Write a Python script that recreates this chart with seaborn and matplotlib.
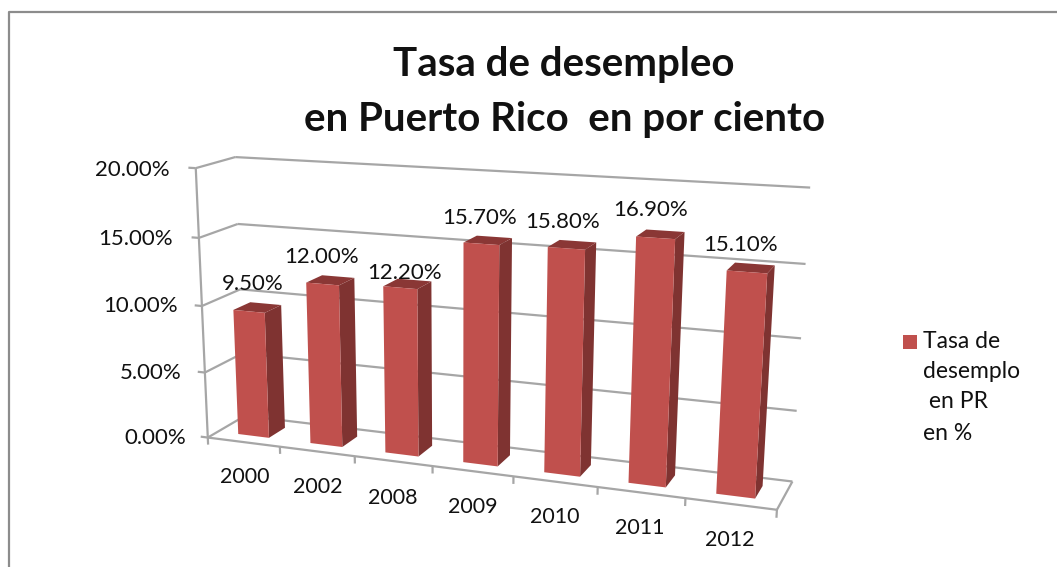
#!/usr/bin/env python
"""Tasa de desempleo en Puerto Rico: columnas 3D con seaborn"""

import numpy as np
import pandas as pd
import matplotlib
matplotlib.use('Agg')
import matplotlib.pyplot as plt
from matplotlib.patches import Polygon, Rectangle
from matplotlib.transforms import Transform
import seaborn as sns

years = ['2000', '2002', '2008', '2009', '2010', '2011', '2012']
rates = [9.5, 12.0, 12.2, 15.7, 15.8, 16.9, 15.1]
y_ticks = [0, 5, 10, 15, 20]
title_lines = ['Tasa de desempleo', 'en Puerto Rico  en por ciento']
legend_lines = ['Tasa de', 'desemplo', ' en PR', 'en %']

FRONT = '#C0504D'
SIDE = '#7F3331'
TOP = '#8A3735'
GRID = '#A6A6A6'
TEXT = '#111111'

# puntos de referencia de la caja 3D: (categoria, profundidad, valor) -> pixel
anchor_world = [(0, 0, 0), (7, 0, 0), (7, 1, 0), (0, 1, 0), (0, 0, 20), (0, 1, 20),
                (7, 1, 20), (7, 1, 10), (0, 0, 10), (1, 0, 0), (4, 0, 0), (6, 0, 0)]
anchor_px = [(210, 436), (777, 510), (793, 479), (242, 418), (193, 168), (238, 157),
             (810, 188), (801, 338), (202, 306), (281, 445), (513, 478), (685, 500)]

BAR_WIDTH = 0.43
DEPTH_FRONT = 0.27
DEPTH_BACK = 0.72

# posiciones de los textos en pixeles
value_label_xy = [(253, 284), (322, 257), (405, 273), (480, 218), (563, 222), (651, 210), (741, 245)]
year_label_xy = [(245, 477), (318, 487), (393, 498), (473, 507), (555, 517), (640, 528), (730, 540)]
y_label_xy = [(186, 438), (182, 373), (178, 306), (173, 239), (170, 170)]


def fit_camera():
    """Ajusta la matriz de proyeccion 3x4 a los puntos de referencia"""
    rows = []
    rhs = []
    for (u, d, v), (px, py) in zip(anchor_world, anchor_px):
        rows.append([u, d, v, 1, 0, 0, 0, 0, -px * u, -px * d, -px * v])
        rows.append([0, 0, 0, 0, u, d, v, 1, -py * u, -py * d, -py * v])
        rhs += [px, py]
    p = np.linalg.lstsq(np.array(rows, float), np.array(rhs, float), rcond=None)[0]
    return np.append(p, 1.0).reshape(3, 4)


CAMERA = fit_camera()


def project(u, d, v):
    """Coordenadas del mundo a pixeles"""
    h = CAMERA @ np.array([u, d, v, 1.0])
    return h[0] / h[2], h[1] / h[2]


class FacePlane(Transform):
    """Plano frontal de las columnas: (posicion categorica, valor) a pixeles"""
    input_dims = 2
    output_dims = 2
    is_affine = False

    def __init__(self, face_depth):
        super().__init__()
        self.face_depth = face_depth

    def transform_non_affine(self, values):
        values = np.asarray(values, float)
        out = [project(x + 0.5, self.face_depth, y) for x, y in values]
        return np.array(out)


def line3d(ax, p0, p1, lw=1.6):
    a = project(*p0)
    b = project(*p1)
    ax.plot([a[0], b[0]], [a[1], b[1]], color=GRID, lw=lw, solid_capstyle='butt', zorder=1)


def draw_box(ax):
    """Paredes, suelo y marcas del grafico 3D"""
    for tick in y_ticks:
        line3d(ax, (0, 0, tick), (0, 1, tick))
        line3d(ax, (0, 1, tick), (7, 1, tick))
        line3d(ax, (-0.1, 0, tick), (0, 0, tick))
    line3d(ax, (0, 0, 0), (0, 0, 20))
    line3d(ax, (0, 0, 0), (7, 0, 0))
    line3d(ax, (7, 0, 0), (7, 1, 0))
    for i in range(len(years) + 1):
        line3d(ax, (i, 0, 0), (i, 0, -0.55))


def draw_bars(ax, df):
    """Frentes con seaborn; laterales y tapas a partir de los mismos valores"""
    sns.barplot(data=df, x='year', y='rate', color=FRONT, saturation=1, width=BAR_WIDTH,
                ax=ax, zorder=3, linewidth=0)
    plane = FacePlane(DEPTH_FRONT) + ax.transData
    for patch in ax.patches:
        patch.set_transform(plane)
        patch.set_clip_on(False)
        patch.set_antialiased(True)

    half = BAR_WIDTH / 2
    for i, rate in enumerate(df['rate']):
        u = i + 0.5
        side = [project(u + half, DEPTH_FRONT, 0), project(u + half, DEPTH_BACK, 0),
                project(u + half, DEPTH_BACK, rate), project(u + half, DEPTH_FRONT, rate)]
        top = [project(u - half, DEPTH_FRONT, rate), project(u - half, DEPTH_BACK, rate),
               project(u + half, DEPTH_BACK, rate), project(u + half, DEPTH_FRONT, rate)]
        ax.add_patch(Polygon(side, closed=True, facecolor=SIDE, edgecolor='none', zorder=2))
        ax.add_patch(Polygon(top, closed=True, facecolor=TOP, edgecolor='none', zorder=2))


def main():
    sns.set_theme(style='white')
    plt.rcParams['font.family'] = ['Lato', 'DejaVu Sans']

    df = pd.DataFrame({'year': years, 'rate': rates})

    fig = plt.figure(figsize=(10.57, 5.67), dpi=100)
    ax = fig.add_axes([0, 0, 1, 1])

    draw_bars(ax, df)
    draw_box(ax)

    ax.set_xlim(0, 1057)
    ax.set_ylim(567, 0)
    ax.set_xlabel('')
    ax.set_ylabel('')
    ax.set_xticks([])
    ax.set_yticks([])
    for spine in ax.spines.values():
        spine.set_visible(False)

    # marco exterior
    ax.plot([9, 9, 1057], [567, 12, 12], color='#8C8C8C', lw=1.6, zorder=1)

    # titulo
    ax.text(564, 76, title_lines[0], ha='center', va='baseline', fontsize=29, fontweight='bold', color=TEXT)
    ax.text(565, 131, title_lines[1], ha='center', va='baseline', fontsize=29, fontweight='bold', color=TEXT)

    for tick, (px, py) in zip(y_ticks, y_label_xy):
        ax.text(px, py, f'{tick:.2f}%', ha='right', va='center', fontsize=16, color=TEXT)
    for year, (px, py) in zip(years, year_label_xy):
        ax.text(px, py, year, ha='center', va='center', fontsize=15.5, color=TEXT)
    for rate, (px, py) in zip(rates, value_label_xy):
        ax.text(px, py, f'{rate:.2f}%', ha='center', va='center', fontsize=16, color=TEXT, zorder=5)

    # leyenda
    ax.add_patch(Rectangle((903, 335), 14, 14, facecolor=FRONT, edgecolor='none'))
    for line, py in zip(legend_lines, [342, 372, 402, 433]):
        ax.text(923, py, line, ha='left', va='center', fontsize=16.5, color=TEXT)

    fig.savefig('out.png', dpi=100)
    plt.close(fig)


if __name__ == "__main__":
    main()
